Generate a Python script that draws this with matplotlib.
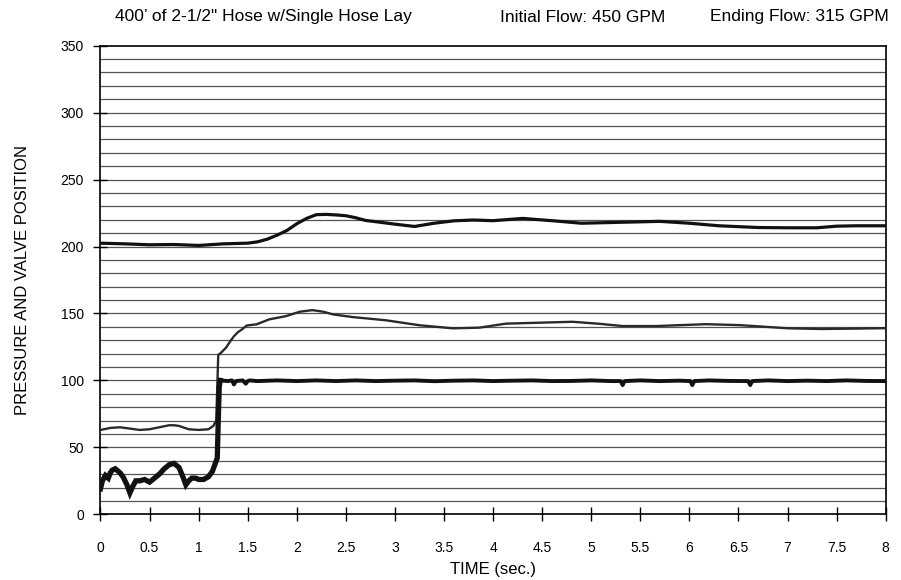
import matplotlib
matplotlib.use('Agg')
import matplotlib.pyplot as plt

plt.rcParams['font.family'] = ['Liberation Sans', 'DejaVu Sans']

# upper pressure trace
t_top = [0, 0.25, 0.5, 0.75, 1.0, 1.25, 1.5, 1.6, 1.7, 1.8, 1.9, 2.0, 2.1, 2.2, 2.3,
         2.4, 2.5, 2.6, 2.7, 2.8, 3.0, 3.2, 3.4, 3.6, 3.8, 4.0, 4.3, 4.6, 4.9, 5.3,
         5.7, 6.0, 6.3, 6.7, 7.0, 7.3, 7.5, 7.7, 8.0]
p_top = [202.5, 202, 201.3, 201.5, 200.8, 202, 202.5, 203.5, 205.5, 208.5, 212, 217,
         221, 223.8, 224, 223.6, 223, 221.5, 219.5, 218.6, 216.7, 215, 217.4, 219.2,
         219.8, 219.3, 221, 219.3, 217.4, 218.1, 218.8, 217.4, 215.5, 214.2, 214, 214,
         215.2, 215.5, 215.5]

# middle pressure trace
t_mid = [0, 0.1, 0.2, 0.3, 0.4, 0.5, 0.6, 0.7, 0.75, 0.8, 0.9, 1.0, 1.1, 1.15, 1.18,
         1.19, 1.2, 1.23, 1.28, 1.32, 1.36, 1.4, 1.44, 1.49, 1.59, 1.72, 1.89, 2.03,
         2.16, 2.27, 2.37, 2.57, 2.91, 3.25, 3.59, 3.86, 4.13, 4.47, 4.81, 5.08, 5.32,
         5.66, 6.17, 6.51, 7.01, 7.35, 7.69, 8.0]
p_mid = [63, 64.5, 65, 64, 63, 63.5, 65, 66.5, 66.5, 66, 63.5, 63, 63.5, 66, 70,
         95, 119, 120.8, 124.5, 129, 133, 136, 138, 141, 141.9, 145.6, 148, 151.3,
         152.5, 151.3, 149.3, 147.3, 144.9, 141.2, 138.9, 139.4, 142.4, 143.1, 143.8,
         142.3, 140.6, 140.6, 142, 141.3, 138.9, 138.4, 138.7, 139]

# valve position trace
t_valve = [0, 0.02, 0.05, 0.08, 0.1, 0.12, 0.15, 0.2, 0.23, 0.27, 0.3, 0.33, 0.36,
           0.4, 0.45, 0.5, 0.55, 0.6, 0.65, 0.7, 0.75, 0.8, 0.84, 0.87, 0.9, 0.93,
           0.97, 1.0, 1.05, 1.1, 1.14, 1.17, 1.19, 1.2, 1.21, 1.22, 1.3, 1.34, 1.36,
           1.38, 1.45, 1.48, 1.5, 1.52, 1.6, 1.8, 2.0, 2.2, 2.4, 2.6, 2.8, 3.0, 3.2,
           3.4, 3.6, 3.8, 4.0, 4.2, 4.4, 4.6, 4.8, 5.0, 5.2, 5.3, 5.32, 5.34, 5.5,
           5.7, 5.9, 6.01, 6.03, 6.05, 6.2, 6.4, 6.6, 6.62, 6.64, 6.8, 7.0, 7.2,
           7.4, 7.6, 7.8, 8.0]
v_valve = [19, 25, 29, 27, 31, 33, 34, 31, 28, 22, 16, 21, 25, 25, 26, 24, 27, 30,
           34, 37, 38, 35, 28, 22, 25, 27, 27, 26, 26, 28, 32, 38, 42, 70, 95, 100,
           99.5, 100, 97, 99.5, 100, 97.5, 99.5, 100, 99.5, 100, 99.5, 100, 99.5,
           100, 99.5, 99.8, 100, 99.4, 99.8, 100, 99.5, 99.8, 100, 99.5, 99.6, 100,
           99.5, 99.5, 96.5, 99.5, 100, 99.5, 99.8, 99.5, 96.5, 99.5, 100, 99.6,
           99.5, 96.5, 99.5, 100, 99.5, 99.8, 99.5, 100, 99.6, 99.5]

y_ticks = [0, 50, 100, 150, 200, 250, 300, 350]
x_ticks = [0, 0.5, 1, 1.5, 2, 2.5, 3, 3.5, 4, 4.5, 5, 5.5, 6, 6.5, 7, 7.5, 8]
x_labels = ['0', '0.5', '1', '1.5', '2', '2.5', '3', '3.5', '4', '4.5', '5', '5.5',
            '6', '6.5', '7', '7.5', '8']

title_parts = ['400\u2019 of 2-1/2" Hose w/Single Hose Lay',
               'Initial Flow: 450 GPM',
               'Ending Flow: 315 GPM']

fig = plt.figure(figsize=(9.01, 5.80), dpi=100)
ax = fig.add_axes([0.1115, 0.1133, 0.983 - 0.1115, 0.9212 - 0.1133])

for g in range(10, 350, 10):
    ax.axhline(g, color='#555555', lw=0.9, zorder=1)

ax.plot(t_top, p_top, color='#111111', lw=2.3, zorder=3)
ax.plot(t_mid, p_mid, color='#2a2a2a', lw=1.7, zorder=3)
ax.plot(t_valve[:36], v_valve[:36], color='#111111', lw=3.8, zorder=4,
        solid_joinstyle='miter')
ax.plot(t_valve[35:], v_valve[35:], color='#111111', lw=2.8, zorder=4)

ax.set_xlim(0, 8)
ax.set_ylim(0, 350)
ax.set_yticks(y_ticks)
ax.set_xticks(x_ticks)
ax.set_xticklabels(x_labels)
ax.tick_params(axis='both', direction='inout', length=10, width=1, labelsize=10,
               colors='black')
ax.tick_params(axis='x', pad=14)
ax.tick_params(axis='y', pad=7)
for s in ax.spines.values():
    s.set_color('black')
    s.set_linewidth(1.2)

ax.set_xlabel('TIME (sec.)', fontsize=12, labelpad=5)
ax.set_ylabel('PRESSURE AND VALVE POSITION', fontsize=12, labelpad=22)

# title pieces centred where they sit in the source
for xp, txt in zip([263, 583, 799], title_parts):
    fig.text(xp / 901, 1 - 17 / 580, txt, ha='center', va='center', fontsize=12.5)

fig.savefig('out.png', dpi=100)
